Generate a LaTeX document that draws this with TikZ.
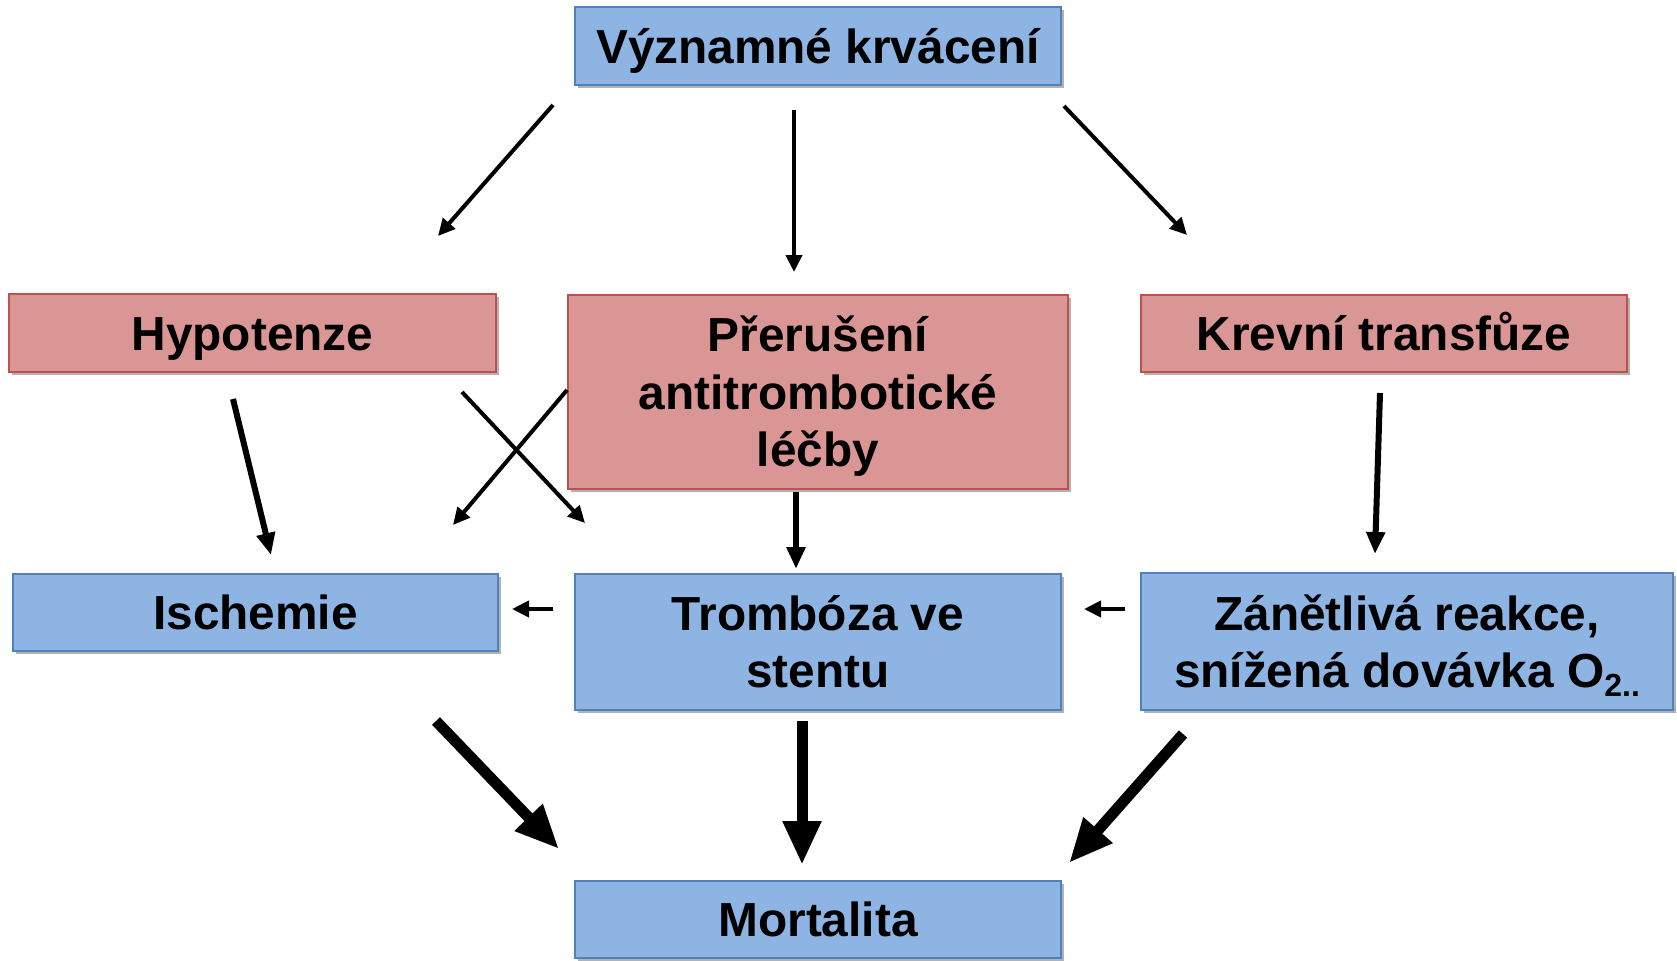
\documentclass[tikz,border=0pt]{standalone}
\usepackage{fontspec}
\setmainfont{Liberation Sans}
\usetikzlibrary{arrows.meta,calc,shadows}
\definecolor{bfill}{HTML}{8EB4E3}
\definecolor{bdraw}{HTML}{4F81BD}
\definecolor{rfill}{HTML}{D99694}
\definecolor{rdraw}{HTML}{C0504D}
\tikzset{
  box/.style={draw, line width=1pt, inner sep=0pt, align=center,
    font=\fontsize{23.9pt}{28.6pt}\selectfont\bfseries,
    text height=17.1pt, text depth=0pt,
    drop shadow={shadow xshift=1.5pt, shadow yshift=-1.5pt, opacity=0.3, fill=black}},
  twolines/.style={text height=45.7pt},
  threelines/.style={text height=74.3pt},
  bluebox/.style={box, fill=bfill, draw=bdraw},
  redbox/.style={box, fill=rfill, draw=rdraw},
  thin/.style={line width=2pt, -{Triangle[length=8.5pt,width=8pt]}},
  mid/.style={line width=3pt, -{Triangle[length=11pt,width=9pt]}},
  thick/.style={line width=5.5pt, -{Triangle[length=22pt,width=18pt]}},
}
\begin{document}
\begin{tikzpicture}[x=0.5pt,y=-0.5pt]
\useasboundingbox (0,0) rectangle (1677,960);
\node[bluebox, minimum width=243pt, minimum height=39pt] (top) at (818,46) {Významné krvácení};
\node[redbox, minimum width=243.5pt, minimum height=39pt] (hyp) at (252.5,333) {Hypotenze};
\node[redbox, threelines, minimum width=250pt, minimum height=97pt] (prer) at (818,392) {Přerušení\\antitrombotické\\léčby};
\node[redbox, minimum width=243pt, minimum height=38.5pt] (krev) at (1384,333.5) {Krevní transfůze};
\node[bluebox, minimum width=242.5pt, minimum height=38.5pt] (isch) at (255.5,612.5) {Ischemie};
\node[bluebox, twolines, minimum width=243pt, minimum height=68pt] (trom) at (818,642) {Trombóza ve\\stentu};
\node[bluebox, twolines, minimum width=266pt, minimum height=68.5pt] (zan) at (1407,641.5) {Zánětlivá reakce,\\snížená dovávka O\raisebox{-0.35ex}{\fontsize{16pt}{16pt}\selectfont 2..}};
\node[bluebox, minimum width=243pt, minimum height=38.5pt] (mort) at (818,919.5) {Mortalita};

\draw[thin] ($(top.south west)+(-21,19)$) -- ($(hyp.north east)+(-59,-57)$);
\draw[thin] ($(top.south)+(-24,24)$) -- ($(prer.north)+(-24,-22)$);
\draw[thin] ($(top.south east)+(2,20)$) -- ($(krev.north west)+(47,-59)$);
\draw[mid] ($(hyp.south)+(-19.5,26)$) -- ($(isch.north)+(15.5,-18)$);
\draw[thin] ($(hyp.south east)+(-35,19)$) -- ($(trom.north west)+(11,-50)$);
\draw[thin] ($(prer.west)+(0,-2)$) -- ($(isch.north east)+(-46,-48)$);
\draw[mid] ($(prer.south)+(-22,2)$) -- ($(trom.north)+(-22,-4)$);
\draw[mid] ($(krev.south)+(-4,20)$) -- ($(zan.north)+(-32,-18)$);
\draw[thin] ($(trom.west)+(-21,-33)$) -- ($(isch.east)+(13,-3.5)$);
\draw[thin] ($(zan.west)+(-15,-32.5)$) -- ($(trom.east)+(22,-33)$);
\draw[thick] ($(isch.south east)+(-63,69)$) -- ($(mort.north west)+(-15,-31)$);
\draw[thick] ($(trom.south)+(-16,10)$) -- ($(mort.north)+(-16,-15)$);
\draw[thick] ($(zan.south west)+(43,23)$) -- ($(mort.north east)+(7,-17)$);
\end{tikzpicture}
\end{document}
